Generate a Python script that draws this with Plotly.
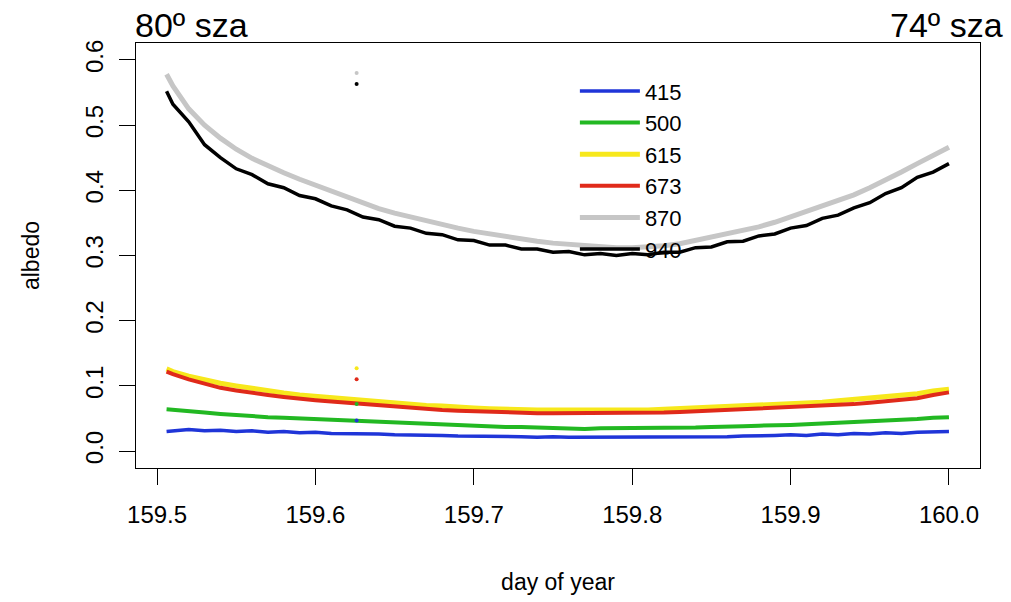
import plotly.graph_objects as go

# ---- data ----
day = [159.506, 159.51, 159.52, 159.53, 159.54, 159.55, 159.56, 159.57, 159.58, 159.59,
       159.60, 159.61, 159.62, 159.63, 159.64, 159.65, 159.66, 159.67, 159.68, 159.69,
       159.70, 159.71, 159.72, 159.73, 159.74, 159.75, 159.76, 159.77, 159.78, 159.79,
       159.80, 159.81, 159.82, 159.83, 159.84, 159.85, 159.86, 159.87, 159.88, 159.89,
       159.90, 159.91, 159.92, 159.93, 159.94, 159.95, 159.96, 159.97, 159.98, 159.99,
       160.00]

alb_415 = [0.030, 0.031, 0.033, 0.031, 0.032, 0.030, 0.031, 0.029, 0.030, 0.028,
           0.029, 0.027, 0.027, 0.026, 0.026, 0.025, 0.025, 0.024, 0.024, 0.023,
           0.023, 0.022, 0.022, 0.022, 0.021, 0.022, 0.021, 0.021, 0.021, 0.021,
           0.021, 0.021, 0.021, 0.021, 0.022, 0.022, 0.022, 0.023, 0.023, 0.024,
           0.025, 0.024, 0.026, 0.025, 0.027, 0.026, 0.028, 0.027, 0.029, 0.029,
           0.030]

alb_500 = [0.064, 0.063, 0.061, 0.059, 0.057, 0.055, 0.053, 0.052, 0.051, 0.050,
           0.049, 0.047, 0.046, 0.045, 0.044, 0.043, 0.042, 0.041, 0.040, 0.039,
           0.039, 0.038, 0.037, 0.037, 0.036, 0.036, 0.035, 0.034, 0.035, 0.035,
           0.035, 0.035, 0.035, 0.036, 0.036, 0.037, 0.037, 0.038, 0.039, 0.039,
           0.040, 0.041, 0.042, 0.043, 0.044, 0.045, 0.046, 0.048, 0.049, 0.051,
           0.052]

alb_615 = [0.126, 0.122, 0.115, 0.109, 0.104, 0.100, 0.096, 0.092, 0.089, 0.086,
           0.084, 0.082, 0.079, 0.077, 0.075, 0.073, 0.071, 0.070, 0.069, 0.067,
           0.066, 0.065, 0.064, 0.064, 0.063, 0.063, 0.063, 0.062, 0.062, 0.062,
           0.063, 0.063, 0.064, 0.065, 0.066, 0.067, 0.068, 0.069, 0.070, 0.071,
           0.072, 0.074, 0.075, 0.077, 0.079, 0.081, 0.083, 0.086, 0.088, 0.092,
           0.095]

alb_673 = [0.122, 0.118, 0.110, 0.103, 0.097, 0.093, 0.089, 0.086, 0.083, 0.080,
           0.078, 0.076, 0.074, 0.072, 0.070, 0.068, 0.066, 0.065, 0.063, 0.062,
           0.061, 0.060, 0.059, 0.058, 0.058, 0.058, 0.058, 0.058, 0.058, 0.058,
           0.058, 0.058, 0.059, 0.060, 0.061, 0.062, 0.063, 0.064, 0.065, 0.066,
           0.067, 0.068, 0.069, 0.071, 0.072, 0.074, 0.076, 0.079, 0.081, 0.086,
           0.090]

alb_870 = [0.578, 0.560, 0.525, 0.500, 0.480, 0.463, 0.449, 0.437, 0.427, 0.417,
           0.408, 0.398, 0.389, 0.380, 0.372, 0.365, 0.359, 0.353, 0.347, 0.342,
           0.337, 0.333, 0.329, 0.325, 0.322, 0.319, 0.317, 0.315, 0.313, 0.312,
           0.312, 0.313, 0.315, 0.318, 0.323, 0.328, 0.333, 0.338, 0.344, 0.351,
           0.359, 0.368, 0.376, 0.384, 0.393, 0.404, 0.415, 0.428, 0.441, 0.454,
           0.466]

alb_940 = [0.552, 0.532, 0.505, 0.470, 0.450, 0.433, 0.424, 0.410, 0.404, 0.392,
           0.387, 0.376, 0.370, 0.359, 0.355, 0.345, 0.342, 0.334, 0.332, 0.324,
           0.323, 0.316, 0.316, 0.310, 0.310, 0.305, 0.306, 0.301, 0.303, 0.300,
           0.303, 0.301, 0.305, 0.305, 0.312, 0.313, 0.321, 0.322, 0.330, 0.333,
           0.342, 0.346, 0.357, 0.362, 0.373, 0.381, 0.395, 0.404, 0.420, 0.428,
           0.441]

# single spike sample seen in every band
spike_day = [159.626]
spike_415 = [0.047]
spike_500 = [0.072]
spike_615 = [0.127]
spike_673 = [0.110]
spike_870 = [0.580]
spike_940 = [0.563]

bands = ["415", "500", "615", "673", "870", "940"]
series = [alb_415, alb_500, alb_615, alb_673, alb_870, alb_940]
spikes = [spike_415, spike_500, spike_615, spike_673, spike_870, spike_940]
colors = ["#1f35d8", "#22b822", "#f7e81c", "#e02a1a", "#c6c6c6", "#000000"]
widths = [3.5, 4, 5, 4, 5, 3.5]

x_ticks = [159.5, 159.6, 159.7, 159.8, 159.9, 160.0]
y_ticks = [0.0, 0.1, 0.2, 0.3, 0.4, 0.5, 0.6]

FONT = "Liberation Sans, Arial, Helvetica, sans-serif"

fig = go.Figure()
for name, ys, col, w in zip(bands, series, colors, widths):
    fig.add_trace(go.Scatter(x=day, y=ys, mode="lines", name=name,
                             line=dict(color=col, width=w), legendgroup=name))
for name, sp, col in zip(bands, spikes, colors):
    fig.add_trace(go.Scatter(x=spike_day, y=sp, mode="markers", name=name,
                             marker=dict(color=col, size=4), showlegend=False,
                             legendgroup=name))

fig.update_layout(
    width=1011, height=602,
    margin=dict(l=136, r=31, t=43, b=132),
    paper_bgcolor="white", plot_bgcolor="white",
    font=dict(family=FONT, size=23, color="black"),
    showlegend=True,
    legend=dict(x=0.520, y=0.936, xanchor="left", yanchor="top",
                bgcolor="rgba(0,0,0,0)", font=dict(size=22), tracegroupgap=0,
                itemwidth=60),
    xaxis=dict(range=[159.4867, 160.0196], tickvals=x_ticks, tickformat=".1f",
               showgrid=False, zeroline=False, showline=True, mirror=True,
               linecolor="black", linewidth=1.2, ticks="outside", ticklen=16,
               tickcolor="black", tickwidth=1.2, tickfont=dict(size=24),
               ticklabelstandoff=9,
               title=dict(text="day of year", font=dict(size=23), standoff=46)),
    yaxis=dict(range=[-0.026, 0.626], tickvals=y_ticks, tickformat=".1f",
               showgrid=False, zeroline=False, showline=True, mirror=True,
               linecolor="black", linewidth=1.2, ticks="outside", ticklen=16,
               tickcolor="black", tickwidth=1.2, tickangle=-90,
               tickfont=dict(size=24), ticklabelstandoff=6,
               title=dict(text="albedo", font=dict(size=23), standoff=35)),
    annotations=[
        dict(text="80º sza", xref="paper", yref="paper", x=-0.004, y=1.042,
             xanchor="left", yanchor="middle", showarrow=False,
             font=dict(size=34)),
        dict(text="74º sza", xref="paper", yref="paper", x=1.0296, y=1.042,
             xanchor="right", yanchor="middle", showarrow=False,
             font=dict(size=34)),
    ],
)

fig.write_html("out.html")
